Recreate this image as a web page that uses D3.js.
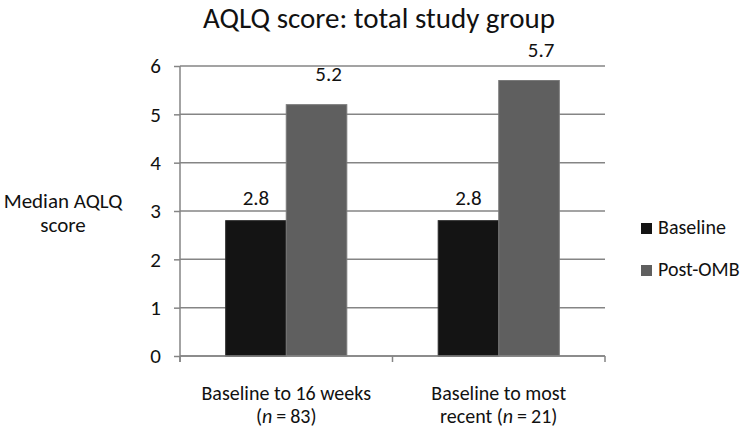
<!DOCTYPE html>
<meta charset="utf-8">
<style>

body {
  margin: 0;
  background: #fff;
  font-family: Carlito, Lato, "Open Sans", sans-serif;
}

text {
  font-family: Carlito, Lato, "Open Sans", sans-serif;
  fill: #111;
}

.grid line {
  stroke: #858585;
  stroke-width: 1.5px;
}

.axis path,
.axis line {
  fill: none;
  stroke: #858585;
  stroke-width: 1.5px;
}

.axis text {
  font-family: Carlito, Lato, "Open Sans", sans-serif;
  font-size: 21px;
  fill: #111;
}

</style>
<body>
<script src="https://cdn.jsdelivr.net/npm/d3@7"></script>
<div id="container"></div>

<script>

// data
var categories = ["Baseline to 16 weeks|(n = 83)", "Baseline to most|recent (n = 21)"];
var series = ["Baseline", "Post-OMB"];
var baseline = [2.8, 2.8];
var postOMB = [5.2, 5.7];
var yTicks = [0, 1, 2, 3, 4, 5, 6];
var colors = ["#141414", "#5f5f5f"];

var margin = {top: 66, right: 145, bottom: 74, left: 180},
    width = 750 - margin.left - margin.right,
    height = 430 - margin.top - margin.bottom;

var svg = d3.select("#container")
    .append("svg")
        .attr("width", 750)
        .attr("height", 430);

var g = svg.append("g")
    .attr("transform", "translate(" + margin.left + "," + margin.top + ")");

var x0 = d3.scaleBand()
    .domain(categories)
    .range([0, width])
    .paddingInner(0.43)
    .paddingOuter(0.215);

var x1 = d3.scaleBand()
    .domain(series)
    .range([0, x0.bandwidth()]);

var y = d3.scaleLinear()
    .domain([0, 6])
    .range([height, 0]);

var color = d3.scaleOrdinal().domain(series).range(colors);

// gridlines
g.append("g")
    .attr("class", "grid")
  .selectAll("line")
  .data(yTicks)
  .enter().append("line")
    .attr("x1", 0)
    .attr("x2", width)
    .attr("y1", function(d) { return y(d); })
    .attr("y2", function(d) { return y(d); });

var rows = categories.map(function(c, i) {
  return {cat: c, values: [
    {key: series[0], value: baseline[i]},
    {key: series[1], value: postOMB[i]}
  ]};
});

var groups = g.selectAll(".group")
  .data(rows)
  .enter().append("g")
    .attr("class", "group")
    .attr("transform", function(d) { return "translate(" + x0(d.cat) + ",0)"; });

groups.selectAll("rect")
  .data(function(d) { return d.values; })
  .enter().append("rect")
    .attr("x", function(d) { return x1(d.key); })
    .attr("y", function(d) { return y(d.value); })
    .attr("width", x1.bandwidth())
    .attr("height", function(d) { return height - y(d.value); })
    .attr("fill", function(d) { return color(d.key); })
    .attr("stroke", function(d, i) { return i ? "#7a7a7a" : "#2a2a2a"; })
    .attr("stroke-width", 1);

// value labels (the Post-OMB ones sit higher and a bit to the right)
groups.selectAll(".val")
  .data(function(d) { return d.values; })
  .enter().append("text")
    .attr("class", "val")
    .attr("x", function(d, i) { return x1(d.key) + x1.bandwidth() / 2 + (i ? 12 : 0); })
    .attr("y", function(d, i) { return y(d.value) - (i ? 24 : 16); })
    .attr("text-anchor", "middle")
    .style("font-size", "21px")
    .text(function(d) { return d3.format(".1f")(d.value); });

// y axis
var yAxis = d3.axisLeft(y).tickValues(yTicks).tickSize(6).tickPadding(13).tickFormat(d3.format("d"));
g.append("g")
    .attr("class", "y axis")
    .call(yAxis)
    .call(function(s) {
      s.attr("font-family", null).attr("font-size", null);
      s.select(".domain").attr("d", "M0," + (height + 6) + "V0");
    });

// x axis: ticks on the category boundaries
var bounds = [0, width / 2, width];
g.append("g")
    .attr("class", "x axis")
    .attr("transform", "translate(0," + height + ")")
  .call(function(s) {
    s.append("path").attr("class", "domain").attr("d", "M0,0H" + width);
    s.selectAll(".tk").data(bounds).enter().append("line")
      .attr("x1", function(d) { return d; })
      .attr("x2", function(d) { return d; })
      .attr("y1", 0).attr("y2", 6);
  });

// category labels, one text element per line
var xlines = [];
categories.forEach(function(c) {
  c.split("|").forEach(function(line, i) {
    xlines.push({cat: c, line: line, row: i});
  });
});

g.append("g")
  .selectAll("text")
  .data(xlines)
  .enter().append("text")
    .attr("x", function(d) { return x0(d.cat) + x0.bandwidth() / 2; })
    .attr("y", function(d) { return height + 44 + d.row * 23; })
    .attr("text-anchor", "middle")
    .style("font-size", "20px")
    .each(function(d) {
      var t = d3.select(this);
      var m = d.line.match(/^(.*)\(n = (\d+)\)$/);
      if (m) {
        t.append("tspan").text(m[1] + "(");
        t.append("tspan").style("font-style", "italic").text("n");
        t.append("tspan").text("\u2009=\u2009" + m[2] + ")");
      } else {
        t.text(d.line);
      }
    });

// y axis title
svg.append("g")
  .selectAll("text")
  .data(["Median AQLQ", "score"])
  .enter().append("text")
    .attr("x", 63)
    .attr("y", function(d, i) { return 208 + i * 24; })
    .attr("text-anchor", "middle")
    .style("font-size", "21px")
    .text(function(d) { return d; });

// title
svg.append("text")
    .attr("x", 379)
    .attr("y", 28)
    .attr("text-anchor", "middle")
    .style("font-size", "29px")
    .text("AQLQ score: total study group");

// legend
var legend = svg.append("g")
    .attr("transform", "translate(641,223)")
  .selectAll("g")
  .data(series)
  .enter().append("g")
    .attr("transform", function(d, i) { return "translate(0," + i * 42 + ")"; });

legend.append("rect")
    .attr("width", 11)
    .attr("height", 11)
    .attr("fill", function(d) { return color(d); });

legend.append("text")
    .attr("x", 17)
    .attr("y", 11)
    .style("font-size", "20px")
    .text(function(d) { return d; });

</script>
